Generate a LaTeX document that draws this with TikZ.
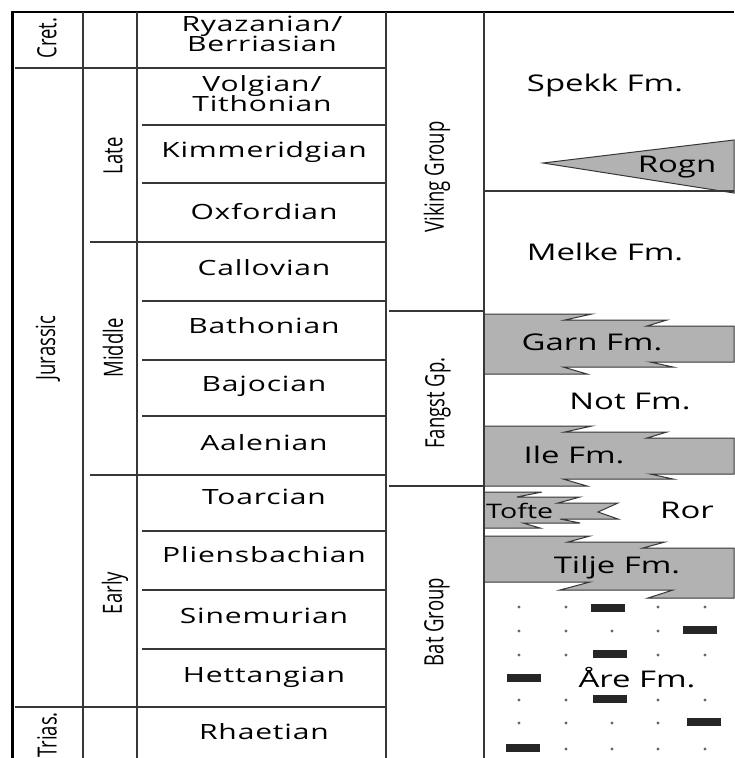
\documentclass[tikz,border=0pt]{standalone}
\usepackage{fontspec}
\usepackage{graphicx}
\setmainfont{Open Sans}
\newfontfamily\stagefont{Open Sans}[FakeStretch=1.43,LetterSpace=4]
\newfontfamily\fmfont{Open Sans}[FakeStretch=1.43]
\usetikzlibrary{positioning}
\definecolor{shale}{RGB}{178,178,178}
\definecolor{rule}{RGB}{55,55,55}
\newcommand{\tall}[1]{\scalebox{1}[1.43]{#1}}

\begin{document}
\begin{tikzpicture}[x=1pt, y=-1pt,
    stage/.style={font=\stagefont\fontsize{21}{18}\selectfont, anchor=base, inner sep=0pt},
    fm/.style={font=\fmfont\fontsize{23}{24}\selectfont, anchor=base, inner sep=0pt},
    vert/.style={rotate=90, font=\fontsize{18.5}{20}\selectfont, inner sep=0pt},
    sand/.style={fill=shale, draw=rule, line width=1pt},
    coal/.style={fill=black!85},
    silt/.style={fill=black!60},
    grid/.style={draw=rule, line width=1.3pt}]
  \useasboundingbox (0,0) rectangle (734,758);

  % sandstone tongues
  \foreach \ty in {314,426}
    \filldraw[sand] (484,\ty) -- (592,\ty) -- (565,\ty+6) -- (667,\ty+6) -- (647,\ty+12) -- (734,\ty+12)
      -- (734,\ty+48) -- (650,\ty+48) -- (673,\ty+53) -- (563,\ty+53) -- (587,\ty+60) -- (484,\ty+60) -- cycle;
  \filldraw[sand] (484,492) -- (542,492) -- (517,497) -- (580,497) -- (558,503) -- (618,503) -- (598,512)
    -- (618,519) -- (560,519) -- (580,523) -- (523,523) -- (540,528) -- (484,528) -- cycle;
  \filldraw[sand] (484,536) -- (590,536) -- (568,542) -- (665,542) -- (643,548) -- (734,548)
    -- (734,598) -- (648,598) -- (673,590) -- (560,590) -- (590,582) -- (484,582) -- cycle;
  \filldraw[sand] (734,140) -- (543,163) -- (734,193) -- cycle;

  % coal and silt in the Are
  \foreach \x/\y in {608/608, 700/630, 610/654, 524/678, 610/699, 704/722, 523/748}
    \fill[coal] (\x-17,\y-4) rectangle (\x+17,\y+4);
  \foreach \y in {607,655,700}
    \foreach \x in {519,566,658,705}
      \fill[silt] (\x,\y) circle (1.6pt);
  \foreach \x in {519,566,612,658} {
    \fill[silt] (\x,631) circle (1.6pt);
    \fill[silt] (\x,723) circle (1.6pt);
  }
  \foreach \x in {566,612,658,705}
    \fill[silt] (\x,749) circle (1.6pt);

  % columns
  \draw[line width=3pt] (12,11) -- (12,758);
  \draw[line width=2pt] (11,12) -- (734,12);
  \foreach \x in {83,137,386,484}
    \draw[grid] (\x,12) -- (\x,758);
  \foreach \y in {68,707}
    \draw[grid] (15,\y) -- (386,\y);
  \foreach \y in {242,475}
    \draw[grid] (90,\y) -- (386,\y);
  \foreach \y in {125,183,301,360,416,531,590,649}
    \draw[grid] (142,\y) -- (386,\y);
  \foreach \y in {311,486}
    \draw[grid] (389,\y) -- (484,\y);
  \draw[grid] (484,191) -- (734,191);

  % periods, epochs, groups
  \node[vert] (cret) at (47,38) {\tall{Cret.}};
  \node[vert] (jur) at (48,348) {\tall{Jurassic}};
  \node[vert] (trias) at (47,735) {\tall{Trias.}};
  \node[vert] (late) at (113,156) {\tall{Late}};
  \node[vert] (mid) at (113,348) {\tall{Middle}};
  \node[vert] (early) at (115,593) {\tall{Early}};
  \node[vert] (viking) at (437,177) {\tall{Viking Group}};
  \node[vert] (fangst) at (438,403) {\tall{Fangst Gp.}};
  \node[vert] (bat) at (437,622) {\tall{Bat Group}};

  % stages
  \node[stage] (ryaz) at (262,31) {Ryazanian/};
  \node[stage] (berr) at (262,51) {Berriasian};
  \node[stage] (volg) at (262,91) {Volgian/};
  \node[stage] (tith) at (262,111) {Tithonian};
  \foreach \lbl/\y in {Kimmeridgian/157, Oxfordian/219, Callovian/275, Bathonian/333, Bajocian/391,
      Aalenian/450, Toarcian/504, Pliensbachian/562, Sinemurian/623, Hettangian/682, Rhaetian/739}
    \node[stage] (\lbl) at (264,\y) {\lbl};

  % formations
  \node[fm] (spekk) at (605,91) {Spekk Fm.};
  \node[fm] (rogn) at (677,172) {Rogn};
  \node[fm] (melke) at (605,260) {Melke Fm.};
  \node[fm] (garn) at (592,350) {Garn Fm.};
  \node[fm] (not) at (630,409) {Not Fm.};
  \node[fm] (ile) at (574,463) {Ile Fm.};
  \node[fm, anchor=base west, font=\fmfont\fontsize{20}{22}\selectfont] (tofte) at (486,518) {Tofte};
  \node[fm] (ror) at (687,518) {Ror};
  \node[fm] (tilje) at (617,573) {Tilje Fm.};
  \node[fm] (are) at (637,687) {Åre Fm.};
\end{tikzpicture}
\end{document}
